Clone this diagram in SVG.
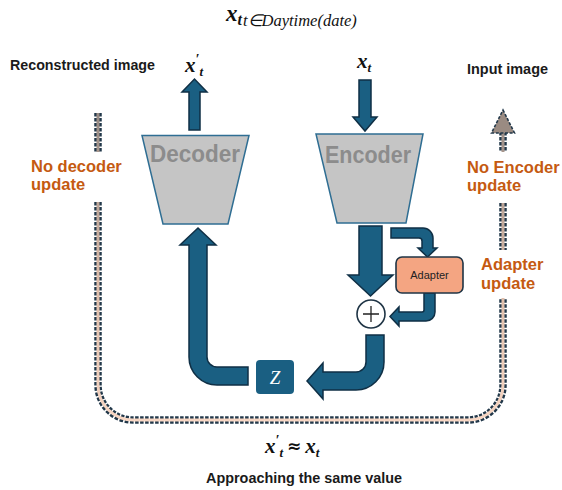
<svg xmlns="http://www.w3.org/2000/svg" width="562" height="490" viewBox="0 0 562 490">
  <style>
    .lbl { font-family: "Liberation Sans", Arial, sans-serif; font-weight: bold; font-size: 14.4px; fill: #1a1a1a; }
    .upd { font-family: "Liberation Sans", Arial, sans-serif; font-weight: bold; font-size: 16.5px; fill: #c55a11; }
    .math { font-family: "Liberation Serif", "Times New Roman", serif; font-style: italic; fill: #111; }
    .blk { font-family: "Liberation Sans", Arial, sans-serif; font-weight: bold; font-size: 24px; fill: #8c8c8c; }
    .arrow { fill: #1a5f82; stroke: #0f2f45; stroke-width: 1.5; stroke-linejoin: miter; }
    .trap { fill: #c5c5c5; stroke: #2f6e93; stroke-width: 1.5; }
    .loopEdge { fill: none; stroke: #22384a; stroke-width: 7.5; stroke-dasharray: 3.5 1.5; }
    .loopCore { fill: none; stroke: url(#core); stroke-width: 3; }
  </style>
  <defs>
    <linearGradient id="core" gradientUnits="userSpaceOnUse" x1="0" y1="110" x2="0" y2="420">
      <stop offset="0" stop-color="#968a84"/>
      <stop offset="0.55" stop-color="#dcbba8"/>
      <stop offset="1" stop-color="#f7d6c3"/>
    </linearGradient>
  </defs>

  <rect width="562" height="490" fill="#ffffff"/>

  <!-- title -->
  <text class="math" x="226" y="21" font-size="23" font-weight="bold">x<tspan font-size="16" dy="4">t</tspan><tspan font-size="16.5" font-weight="normal" dy="1" dx="1">t∈Daytime(date)</tspan></text>

  <!-- side labels -->
  <text class="lbl" x="10" y="70" textLength="145" lengthAdjust="spacingAndGlyphs">Reconstructed image</text>
  <text class="lbl" x="467" y="74" textLength="81" lengthAdjust="spacingAndGlyphs">Input image</text>

  <!-- feedback loop (dashed double line) -->
  <g id="loop">
    <path class="loopEdge" d="M98,113 V152"/>
    <path class="loopCore" d="M98,113 V152"/>
    <path class="loopEdge" d="M98,202 V385 A35,35 0 0 0 133,420 H468 A35,35 0 0 0 503,385 V298"/>
    <path class="loopCore" d="M98,202 V385 A35,35 0 0 0 133,420 H468 A35,35 0 0 0 503,385 V298"/>
    <path class="loopEdge" d="M503,203 V250"/>
    <path class="loopCore" d="M503,203 V250"/>
    <path class="loopEdge" d="M503,132 V152"/>
    <path class="loopCore" d="M503,132 V152"/>
    <polygon points="503,110 514.5,133 491.5,133" fill="#9a8b82" stroke="#22384a" stroke-width="1.6" stroke-dasharray="3 1.6"/>
  </g>

  <text class="upd" x="31" y="172">No decoder</text>
  <text class="upd" x="31" y="190">update</text>
  <text class="upd" x="467" y="173">No Encoder</text>
  <text class="upd" x="467" y="191">update</text>
  <text class="upd" x="481" y="270">Adapter</text>
  <text class="upd" x="481" y="289">update</text>

  <!-- connectors -->
  <g id="connectors">
    <!-- decoder output -->
    <polygon class="arrow" points="189,130 189,92 182,92 194.5,79 207,92 200,92 200,130"/>
    <!-- encoder input -->
    <polygon class="arrow" points="359,80 371,80 371,117 377,117 365,131 353,117 359,117"/>
    <!-- encoder to sum -->
    <polygon class="arrow" points="359,226 382,226 382,275 393,275 370.5,296 348,275 359,275"/>
    <!-- encoder to adapter -->
    <path class="arrow" d="M391,228 H423 A10,10 0 0 1 433,238 V248 H437 L427.5,257 L418,248 H422 V241 A3,3 0 0 0 419,238 H391 Z"/>
    <!-- adapter to sum -->
    <path class="arrow" d="M424,293 H435 V312 A9,9 0 0 1 426,321 H399 V326 L390,316.5 L399,307 V312 H422 A2,2 0 0 0 424,310 Z"/>
    <!-- sum to latent -->
    <path class="arrow" d="M366,335 H384 V362 A28,28 0 0 1 356,390 H323 V399 L307,381 L323,363 V372 H356 A10,10 0 0 0 366,362 Z"/>
    <!-- latent to decoder -->
    <path class="arrow" d="M207,245 V357 A10,10 0 0 0 217,367 H248 V385 H217 A28,28 0 0 1 189,357 V245 H180 L198,228 L216,245 Z"/>
  </g>

  <!-- nodes -->
  <g id="decoder">
    <polygon class="trap" points="142,135.5 249,135.5 228,224 163,224"/>
    <text class="blk" x="150" y="162" textLength="90" lengthAdjust="spacingAndGlyphs">Decoder</text>
  </g>
  <g id="encoder">
    <polygon class="trap" points="316,134 423,134 406,223 337,223"/>
    <text class="blk" x="325" y="163" textLength="86" lengthAdjust="spacingAndGlyphs">Encoder</text>
  </g>
  <g id="adapter">
    <rect x="396" y="257" width="67" height="36" rx="6" fill="#f4a582" stroke="#1f3445" stroke-width="1.6"/>
    <text x="429.5" y="279" text-anchor="middle" font-family="Liberation Sans, Arial, sans-serif" font-size="11" fill="#222">Adapter</text>
  </g>
  <g id="sum">
    <circle cx="371" cy="314" r="14" fill="#ffffff" stroke="#1f3445" stroke-width="1.6"/>
    <path d="M363,314 H379 M371,306 V322" stroke="#222" stroke-width="1.3"/>
  </g>
  <g id="latent">
    <rect x="256" y="360" width="38" height="34" rx="4" fill="#1a5f82"/>
    <text x="275" y="384" text-anchor="middle" font-family="Liberation Serif, serif" font-style="italic" font-size="19" fill="#ffffff">Z</text>
  </g>

  <!-- variable labels -->
  <text class="math" x="185" y="72" font-size="21" font-weight="bold">x<tspan font-size="14" dy="-8">′</tspan><tspan font-size="13" dy="12">t</tspan></text>
  <text class="math" x="357" y="68" font-size="21" font-weight="bold">x<tspan font-size="13" dy="4">t</tspan></text>
  <text class="math" x="265" y="453" font-size="21" font-weight="bold">x<tspan font-size="14" dy="-8">′</tspan><tspan font-size="13" dy="12">t</tspan><tspan font-family="DejaVu Sans, sans-serif" font-style="normal" font-size="17" dx="4" dy="-5">≈</tspan><tspan dx="4" dy="1">x</tspan><tspan font-size="13" dy="4">t</tspan></text>
  <text class="lbl" x="206" y="483" textLength="196" lengthAdjust="spacingAndGlyphs">Approaching the same value</text>
</svg>
